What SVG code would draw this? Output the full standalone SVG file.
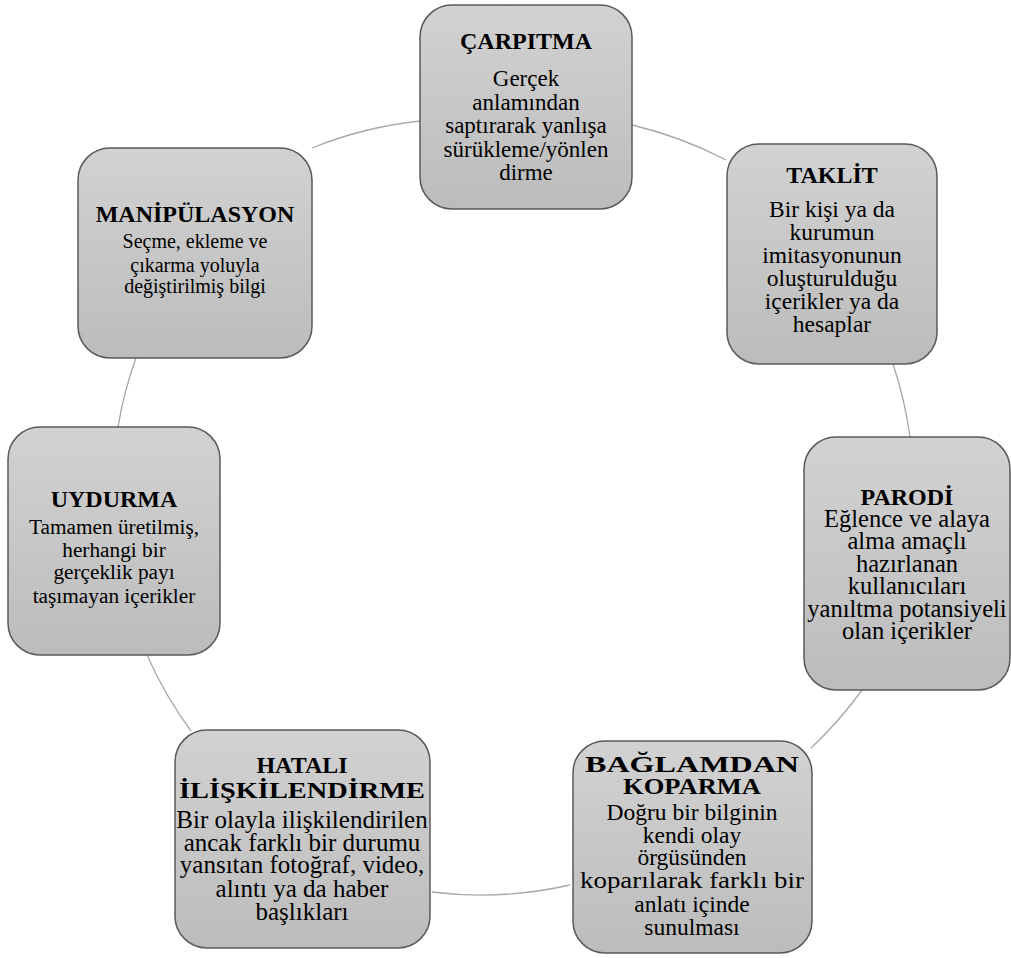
<svg xmlns="http://www.w3.org/2000/svg" width="1011" height="958" viewBox="0 0 1011 958">
<defs>
<linearGradient id="g" x1="0" y1="0" x2="0" y2="1">
<stop offset="0" stop-color="#d2d2d2"/>
<stop offset="1" stop-color="#bcbcbc"/>
</linearGradient>
</defs>
<style>
.box{fill:url(#g);stroke:#5a5a5a;stroke-width:1.5}
.arc{fill:none;stroke:#a8a8a8;stroke-width:1.3}
text{font-family:"Liberation Serif","Times New Roman",serif;fill:#000;text-anchor:middle}
.t{font-size:24px;font-weight:bold}
.b{font-size:22px}
#carpitma .b{font-size:23px}
#taklit .b{font-size:23.5px}
#parodi .b{font-size:24.5px}
#baglamdan .b{font-size:23.5px}
#hatali .b{font-size:25px}
#uydurma .b{font-size:21.3px}
#manipulasyon .b{font-size:20px}
</style>
<rect width="1011" height="958" fill="#fff"/>
<g id="connectors">
<path class="arc" d="M312,148 A400,400 0 0 1 420,121"/>
<path class="arc" d="M632,125 A400,400 0 0 1 726,160"/>
<path class="arc" d="M893,364 A400,400 0 0 1 910,437"/>
<path class="arc" d="M862,690 A400,400 0 0 1 811,748"/>
<path class="arc" d="M570,885 A400,400 0 0 1 432,892"/>
<path class="arc" d="M191,731 A400,400 0 0 1 147,655"/>
<path class="arc" d="M118,427 A400,400 0 0 1 137,355"/>
</g>
<g id="carpitma">
<rect class="box" x="420" y="5" width="212" height="204" rx="32"/>
<text class="t" x="526" y="49">ÇARPITMA</text>
<text class="b" x="526" y="86">Gerçek</text>
<text class="b" x="526" y="110">anlamından</text>
<text class="b" x="526" y="133">saptırarak yanlışa</text>
<text class="b" x="526" y="157">sürükleme/yönlen</text>
<text class="b" x="526" y="180">dirme</text>
</g>
<g id="taklit">
<rect class="box" x="727" y="144" width="210" height="220" rx="32"/>
<text class="t" x="832" y="183">TAKLİT</text>
<text class="b" x="832" y="217">Bir kişi ya da</text>
<text class="b" x="832" y="240">kurumun</text>
<text class="b" x="832" y="263">imitasyonunun</text>
<text class="b" x="832" y="286">oluşturulduğu</text>
<text class="b" x="832" y="309">içerikler ya da</text>
<text class="b" x="832" y="332">hesaplar</text>
</g>
<g id="parodi">
<rect class="box" x="804" y="437" width="206" height="253" rx="32"/>
<text class="t" x="907" y="505">PARODİ</text>
<text class="b" x="907" y="527">Eğlence ve alaya</text>
<text class="b" x="907" y="549">alma amaçlı</text>
<text class="b" x="907" y="572">hazırlanan</text>
<text class="b" x="907" y="594">kullanıcıları</text>
<text class="b" x="907" y="617">yanıltma potansiyeli</text>
<text class="b" x="907" y="639">olan içerikler</text>
</g>
<g id="baglamdan">
<rect class="box" x="573" y="741" width="239" height="212" rx="32"/>
<text class="t" x="692" y="772" textLength="214" lengthAdjust="spacingAndGlyphs">BAĞLAMDAN</text>
<text class="t" x="692" y="794" textLength="138" lengthAdjust="spacingAndGlyphs">KOPARMA</text>
<text class="b" x="692" y="820">Doğru bir bilginin</text>
<text class="b" x="692" y="843">kendi olay</text>
<text class="b" x="692" y="865">örgüsünden</text>
<text class="b" x="692" y="888" textLength="224" lengthAdjust="spacingAndGlyphs">koparılarak farklı bir</text>
<text class="b" x="692" y="912">anlatı içinde</text>
<text class="b" x="692" y="935">sunulması</text>
</g>
<g id="hatali">
<rect class="box" x="175" y="730" width="255" height="218" rx="32"/>
<text class="t" x="302" y="773">HATALI</text>
<text class="t" x="302" y="798" textLength="246" lengthAdjust="spacingAndGlyphs">İLİŞKİLENDİRME</text>
<text class="b" x="302" y="828">Bir olayla ilişkilendirilen</text>
<text class="b" x="302" y="851">ancak farklı bir durumu</text>
<text class="b" x="302" y="873">yansıtan fotoğraf, video,</text>
<text class="b" x="302" y="897">alıntı ya da haber</text>
<text class="b" x="302" y="920">başlıkları</text>
</g>
<g id="uydurma">
<rect class="box" x="8" y="427" width="212" height="228" rx="32"/>
<text class="t" x="114" y="507">UYDURMA</text>
<text class="b" x="114" y="534">Tamamen üretilmiş,</text>
<text class="b" x="114" y="557">herhangi bir</text>
<text class="b" x="114" y="579">gerçeklik payı</text>
<text class="b" x="114" y="603">taşımayan içerikler</text>
</g>
<g id="manipulasyon">
<rect class="box" x="78" y="148" width="234" height="210" rx="32"/>
<text class="t" x="195" y="222">MANİPÜLASYON</text>
<text class="b" x="195" y="248">Seçme, ekleme ve</text>
<text class="b" x="195" y="272">çıkarma yoluyla</text>
<text class="b" x="195" y="293">değiştirilmiş bilgi</text>
</g>
</svg>
